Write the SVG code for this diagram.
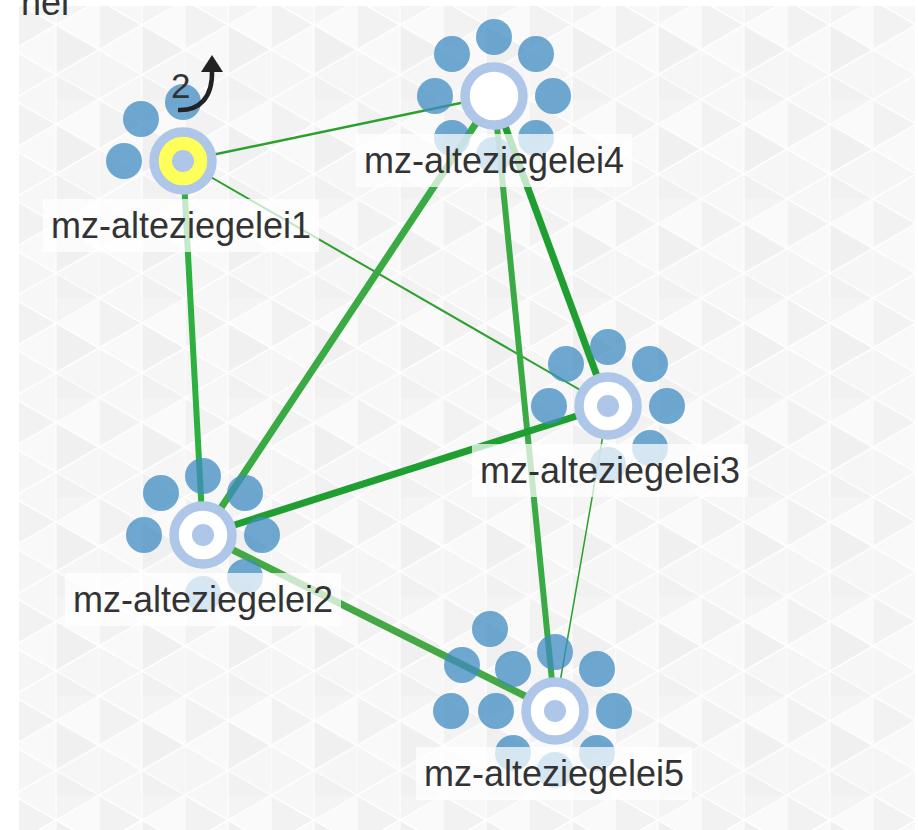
<svg xmlns="http://www.w3.org/2000/svg" width="918" height="830" viewBox="0 0 918 830">
<style>
.lbl{font-family:"Liberation Sans",Arial,sans-serif;font-size:36px;fill:#333;text-anchor:middle}
.lbg{fill:#fff;fill-opacity:0.72}
.sat{fill:#3f8bc2;fill-opacity:0.75}
.ring{stroke:#aec7e8;stroke-width:9.5}
.dot{fill:#aec7e8}
.e{stroke-linecap:butt;fill:none}
</style>
<defs>
<pattern id="tri" x="13" y="0" width="86" height="99.4" patternUnits="userSpaceOnUse">
<rect width="86" height="99.4" fill="#f7f7f7"/>
<polygon points="0,0 43,24.85 0,49.7" fill="#f2f2f2"/>
<polygon points="43,24.85 0,49.7 43,74.55" fill="#f9f9f9"/>
<polygon points="0,49.7 43,74.55 0,99.4" fill="#f5f5f5"/>
<polygon points="43,74.55 86,99.4 43,124.25" fill="#f1f1f1"/>
<polygon points="86,0 43,24.85 86,49.7" fill="#fafafa"/>
<polygon points="43,24.85 86,49.7 43,74.55" fill="#f0f0f0"/>
<polygon points="86,49.7 43,74.55 86,99.4" fill="#f6f6f6"/>
<polygon points="43,-24.85 86,0 43,24.85" fill="#f4f4f4"/>
<g stroke="#ffffff" stroke-width="1.2" stroke-opacity="0.9" fill="none">
<line x1="0" y1="0" x2="0" y2="99.4"/>
<line x1="43" y1="0" x2="43" y2="99.4"/>
<line x1="0" y1="0" x2="86" y2="49.7"/>
<line x1="0" y1="49.7" x2="86" y2="99.4"/>
<line x1="0" y1="49.7" x2="86" y2="0"/>
<line x1="0" y1="99.4" x2="86" y2="49.7"/>
<line x1="-43" y1="24.85" x2="43" y2="74.55"/>
<line x1="43" y1="-24.85" x2="129" y2="24.85"/>
<line x1="43" y1="24.85" x2="129" y2="74.55"/>
<line x1="-43" y1="74.55" x2="43" y2="24.85"/>
<line x1="43" y1="74.55" x2="129" y2="24.85"/>
<line x1="43" y1="124.25" x2="129" y2="74.55"/>
<line x1="-43" y1="124.25" x2="43" y2="74.55"/>
<line x1="-43" y1="-24.85" x2="43" y2="24.85"/>
</g>
</pattern>
</defs>
<rect width="918" height="830" fill="#ffffff"/>
<rect x="19" y="6" width="896" height="824" fill="url(#tri)"/>
<text class="lbl" x="21" y="15" style="text-anchor:start">nel</text>

<g id="edges">
<line class="e" x1="183" y1="161" x2="494" y2="96" stroke="#2ca02c" stroke-width="2.5"/>
<line class="e" x1="183" y1="161" x2="608" y2="406" stroke="#2ca02c" stroke-width="2"/>
<line class="e" x1="183" y1="161" x2="203" y2="535" stroke="#2db040" stroke-width="6"/>
<line class="e" x1="494" y1="96" x2="203" y2="535" stroke="#3aaa45" stroke-width="7"/>
<line class="e" x1="494" y1="96" x2="608" y2="406" stroke="#1f9e32" stroke-width="7"/>
<line class="e" x1="494" y1="96" x2="555" y2="711" stroke="#3aaa45" stroke-width="6"/>
<line class="e" x1="203" y1="535" x2="608" y2="406" stroke="#1f9e32" stroke-width="7"/>
<line class="e" x1="203" y1="535" x2="555" y2="711" stroke="#45a845" stroke-width="7"/>
<line class="e" x1="608" y1="406" x2="555" y2="711" stroke="#2ca02c" stroke-width="1.5"/>
</g>

<g id="node1">
<circle class="sat" cx="124" cy="161" r="18"/>
<circle class="sat" cx="141" cy="119" r="18"/>
<circle class="sat" cx="183" cy="102" r="18"/>
<circle class="ring" cx="183" cy="161" r="29" fill="#ffff5a"/>
<circle class="dot" cx="183" cy="161" r="11"/>
<rect class="lbg" x="43" y="199" width="276" height="53"/>
<text class="lbl" x="181" y="238">mz-alteziegelei1</text>
<text x="171" y="98" style="font-family:'Liberation Sans',Arial,sans-serif;font-size:35px;fill:#333">2</text>
<path d="M178,110 C199,111 213,98 212,70" stroke="#222" stroke-width="4.5" fill="none"/>
<polygon points="212,55 201,72 223,72" fill="#222"/>
</g>

<g id="node4">
<circle class="sat" cx="494" cy="37" r="18"/>
<circle class="sat" cx="452" cy="54" r="18"/>
<circle class="sat" cx="536" cy="54" r="18"/>
<circle class="sat" cx="435" cy="96" r="18"/>
<circle class="sat" cx="553" cy="96" r="18"/>
<circle class="sat" cx="452" cy="138" r="18"/>
<circle class="sat" cx="536" cy="138" r="18"/>
<circle class="sat" cx="494" cy="155" r="18"/>
<circle class="ring" cx="494" cy="96" r="29" fill="#ffffff"/>
<rect class="lbg" x="356" y="134" width="276" height="53"/>
<text class="lbl" x="494" y="173">mz-alteziegelei4</text>
</g>

<g id="node3">
<circle class="sat" cx="608" cy="347" r="18"/>
<circle class="sat" cx="566" cy="364" r="18"/>
<circle class="sat" cx="650" cy="364" r="18"/>
<circle class="sat" cx="549" cy="406" r="18"/>
<circle class="sat" cx="667" cy="406" r="18"/>
<circle class="sat" cx="650" cy="448" r="18"/>
<circle class="sat" cx="608" cy="465" r="18"/>
<circle class="ring" cx="608" cy="406" r="29" fill="#ffffff"/>
<circle class="dot" cx="608" cy="406" r="11"/>
<rect class="lbg" x="472" y="444" width="276" height="53"/>
<text class="lbl" x="610" y="483">mz-alteziegelei3</text>
</g>

<g id="node2">
<circle class="sat" cx="203" cy="476" r="18"/>
<circle class="sat" cx="161" cy="493" r="18"/>
<circle class="sat" cx="245" cy="493" r="18"/>
<circle class="sat" cx="144" cy="535" r="18"/>
<circle class="sat" cx="262" cy="535" r="18"/>
<circle class="sat" cx="245" cy="577" r="18"/>
<circle class="sat" cx="203" cy="594" r="18"/>
<circle class="ring" cx="203" cy="535" r="29" fill="#ffffff"/>
<circle class="dot" cx="203" cy="535" r="11"/>
<rect class="lbg" x="65" y="573" width="276" height="53"/>
<text class="lbl" x="203" y="612">mz-alteziegelei2</text>
</g>

<g id="node5">
<circle class="sat" cx="490" cy="629" r="18"/>
<circle class="sat" cx="462" cy="665" r="18"/>
<circle class="sat" cx="451" cy="711" r="18"/>
<circle class="sat" cx="555" cy="652" r="18"/>
<circle class="sat" cx="513" cy="669" r="18"/>
<circle class="sat" cx="597" cy="669" r="18"/>
<circle class="sat" cx="496" cy="711" r="18"/>
<circle class="sat" cx="614" cy="711" r="18"/>
<circle class="sat" cx="513" cy="753" r="18"/>
<circle class="sat" cx="597" cy="753" r="18"/>
<circle class="sat" cx="555" cy="770" r="18"/>
<circle class="ring" cx="555" cy="711" r="29" fill="#ffffff"/>
<circle class="dot" cx="555" cy="711" r="11"/>
<rect class="lbg" x="416" y="747" width="276" height="53"/>
<text class="lbl" x="554" y="786">mz-alteziegelei5</text>
</g>
</svg>
